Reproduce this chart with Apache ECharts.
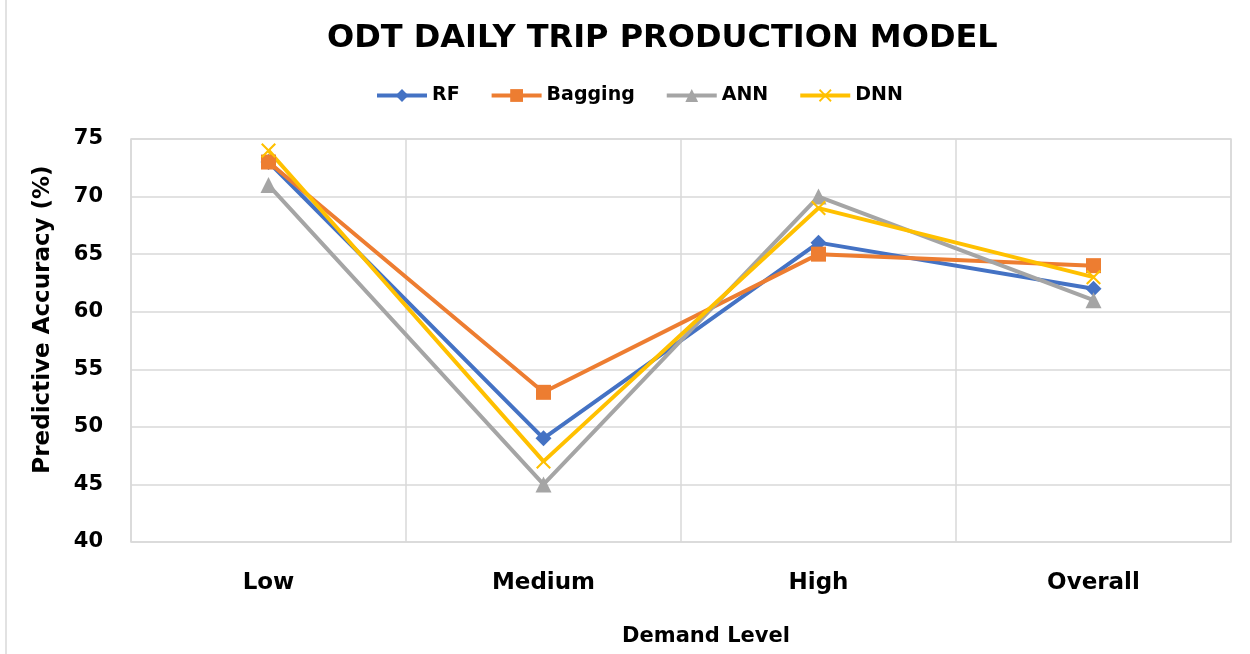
<!DOCTYPE html>
<html><head><meta charset="utf-8">
<script src="https://cdn.jsdelivr.net/npm/echarts@6/dist/echarts.min.js"></script>
<style>html,body{margin:0;padding:0;background:#fff}#c{width:1250px;height:654px}</style>
</head><body><div id="c"></div>
<script>
const categories = ['Low', 'Medium', 'High', 'Overall'];
const rf = [73, 49, 66, 62];
const bagging = [73, 53, 65, 64];
const ann = [71, 45, 70, 61];
const dnn = [74, 47, 69, 63];
const yTicks = [40, 45, 50, 55, 60, 65, 70, 75];

const FONT = '"DejaVu Sans", "Open Sans", sans-serif';
const xPath = 'path://M1,0 L5,4 L9,0 L10,1 L6,5 L10,9 L9,10 L5,6 L1,10 L0,9 L4,5 L0,1 Z';
const chart = echarts.init(document.getElementById('c'), null, {renderer: 'canvas'});
function mk(name, data, color, symbol, size) {
  return {name, type: 'line', data, symbol, symbolSize: size,
    itemStyle: {color}, lineStyle: {color, width: 4}, emphasis: {disabled: true}};
}
chart.setOption({
  animation: false,
  title: {text: 'ODT DAILY TRIP PRODUCTION MODEL', left: 322, top: 18,
    textStyle: {fontFamily: FONT, fontWeight: 'bold', fontSize: 32, color: '#000'}},
  legend: {top: 81, left: 370, itemWidth: 50, itemHeight: 16, itemGap: 30,
    lineStyle: {width: 4},
    textStyle: {fontFamily: FONT, fontWeight: 'bold', fontSize: 19, color: '#000'},
    data: ['RF', 'Bagging', 'ANN', 'DNN']},
  grid: {left: 131, right: 19, top: 139, bottom: 112, show: true, borderColor: '#d9d9d9', borderWidth: 1.5},
  xAxis: {type: 'category', data: categories, boundaryGap: true,
    name: 'Demand Level', nameLocation: 'middle', nameGap: 84,
    nameTextStyle: {fontFamily: FONT, fontWeight: 'bold', fontSize: 21, color: '#000', padding: [0, 0, 0, 50]},
    axisLine: {show: false}, axisTick: {show: false},
    axisLabel: {fontFamily: FONT, fontWeight: 'bold', fontSize: 23, color: '#000', margin: 30},
    splitLine: {show: true, lineStyle: {color: '#d9d9d9', width: 1.5}}},
  yAxis: {type: 'value', min: yTicks[0], max: yTicks[yTicks.length - 1], interval: 5,
    name: 'Predictive Accuracy (%)', nameLocation: 'middle', nameGap: 76,
    nameTextStyle: {fontFamily: FONT, fontWeight: 'bold', fontSize: 23, color: '#000', padding: [0, 0, 0, 42]},
    axisLine: {show: false}, axisTick: {show: false},
    axisLabel: {fontFamily: FONT, fontWeight: 'bold', fontSize: 21, color: '#000', margin: 28},
    splitLine: {lineStyle: {color: '#d9d9d9', width: 1.5}}},
  series: [
    mk('RF', rf, '#4472C4', 'diamond', 16),
    mk('Bagging', bagging, '#ED7D31', 'rect', 15),
    mk('ANN', ann, '#A5A5A5', 'triangle', 16),
    mk('DNN', dnn, '#FFC000', xPath, 15)
  ],
  graphic: [{type: 'rect', shape: {x: 6, y: -2, width: 1300, height: 700},
    style: {fill: 'none', stroke: '#d9d9d9', lineWidth: 1.5}, silent: true}]
});
</script></body></html>
